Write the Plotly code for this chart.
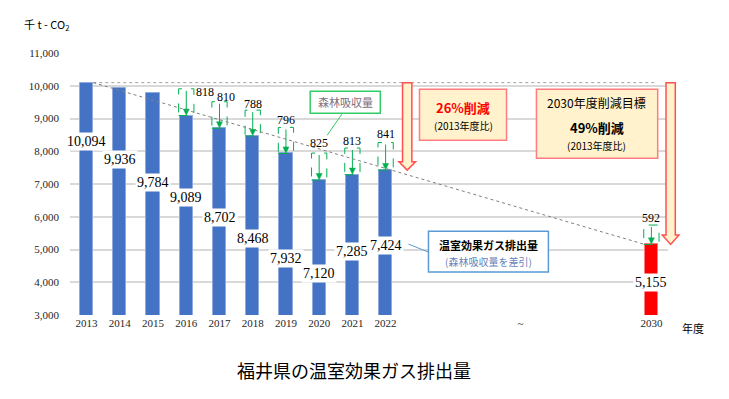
import plotly.graph_objects as go

# ---- data ----
years = ["2013", "2014", "2015", "2016", "2017", "2018", "2019", "2020", "2021", "2022"]
emissions = [10094, 9936, 9784, 9089, 8702, 8468, 7932, 7120, 7285, 7424]
target_year = "2030"
target_emission = 5155
absorb_years = ["2016", "2017", "2018", "2019", "2020", "2021", "2022", "2030"]
absorption = [818, 810, 788, 796, 825, 813, 841, 592]
tick_labels = years + ["~", target_year]

# ---- layout helpers (positions / styles) ----
slot = {y: i for i, y in enumerate(years)}
slot[target_year] = 17
tick_pos = list(range(len(years))) + [13.06, 17]
value_label_y = [8305, 7756, 7055, 6598, 5988, 5348, 4738, 4280, 4951, 5134]
target_label_y = 4006
absorb_label_dx = [0.57, 0.21, 0, 0, 0, 0, 0, 0]
absorb_label_y = [9799, 9646, 9433, 8945, 8244, 8305, 8518, 5957]
X_RANGE = [-0.5, 17.5]
Y_RANGE = [3000, 11000]

BLUE = "#4472C4"
RED = "#FF0000"
GREEN = "#00B050"
SERIF = "Liberation Serif"
JP = "Noto Sans CJK JP"


def px(s):  # slot -> paper x
    return (s - X_RANGE[0]) / (X_RANGE[1] - X_RANGE[0])


def py(v):  # value -> paper y
    return (v - Y_RANGE[0]) / (Y_RANGE[1] - Y_RANGE[0])


fig = go.Figure()
fig.add_trace(go.Bar(x=[slot[y] for y in years], y=emissions, width=0.4,
                     marker=dict(color=BLUE, line=dict(color="#8FAADC", width=1)),
                     hoverinfo="skip"))
fig.add_trace(go.Bar(x=[slot[target_year]], y=[target_emission], width=0.4,
                     marker=dict(color=RED, line=dict(color="#FF7C7C", width=1)),
                     hoverinfo="skip"))

shapes = []
ann = []

all_em = dict(zip(years, emissions))
all_em[target_year] = target_emission

# absorption dashed boxes + arrows + labels
for k, (yr, a) in enumerate(zip(absorb_years, absorption)):
    xi = slot[yr]
    base = all_em[yr]
    shapes.append(dict(type="rect", xref="x", yref="y", x0=xi - 0.23, x1=xi + 0.23,
                       y0=base, y1=base + a, line=dict(color=GREEN, width=1, dash="dash"),
                       fillcolor="rgba(0,0,0,0)", layer="above"))
    shapes.append(dict(type="line", xref="x", yref="y", x0=xi, x1=xi,
                       y0=base + a - 60, y1=base + 150, line=dict(color=GREEN, width=1),
                       layer="above"))
    shapes.append(dict(type="path", xref="x", yref="y",
                       path=f"M {xi-0.09},{base+200} L {xi+0.09},{base+200} L {xi},{base+10} Z",
                       fillcolor=GREEN, line=dict(color=GREEN, width=0.5), layer="above"))
    ann.append(dict(x=xi + absorb_label_dx[k], y=absorb_label_y[k], xref="x", yref="y",
                    text=f"{a}", showarrow=False,
                    font=dict(family=SERIF, size=12, color="#000000")))

# value labels
for yr, v, ly in zip(years, emissions, value_label_y):
    ann.append(dict(x=slot[yr], y=ly, xref="x", yref="y", text=f"{v:,}", showarrow=False,
                    bgcolor="white", borderpad=1,
                    font=dict(family=SERIF, size=14, color="#000000")))
ann.append(dict(x=slot[target_year], y=target_label_y, xref="x", yref="y",
                text=f"{target_emission:,}", showarrow=False, bgcolor="white", borderpad=1,
                font=dict(family=SERIF, size=14, color="#000000")))

# reference lines
base2013 = emissions[0]
shapes.append(dict(type="line", xref="x", yref="y", x0=0.2, x1=17.1, y0=base2013, y1=base2013,
                   line=dict(color="#A0A0A0", width=1, dash="dot"), layer="above"))
shapes.append(dict(type="line", xref="x", yref="y", x0=0.2, x1=16.8, y0=base2013, y1=target_emission,
                   line=dict(color="#808080", width=1, dash="dot"), layer="above"))


def block_arrow(xc, ytop, yhead, ytip):
    hw, hh = px(0.14) - px(0), px(0.25) - px(0)
    xc, ytop, yhead, ytip = px(xc), py(ytop), py(yhead), py(ytip)
    return (f"M {xc-hw},{ytop} L {xc+hw},{ytop} L {xc+hw},{yhead} L {xc+hh},{yhead} "
            f"L {xc},{ytip} L {xc-hh},{yhead} L {xc-hw},{yhead} Z")


shapes.append(dict(type="path", xref="paper", yref="paper",
                   path=block_arrow(9.65, base2013, 7680, emissions[-1]),
                   fillcolor="#FFF2CC", line=dict(color="#FF5050", width=1.5), layer="above"))
shapes.append(dict(type="path", xref="paper", yref="paper",
                   path=block_arrow(17.58, base2013, 5440, target_emission),
                   fillcolor="#FFF2CC", line=dict(color="#FF5050", width=1.5), layer="above"))

# text boxes
shapes.append(dict(type="rect", xref="x", yref="y", x0=10.02, x1=12.64, y0=8335, y1=9890,
                   fillcolor="#FFF2CC", line=dict(color="#FF7C80", width=1.5), layer="above"))
ann.append(dict(x=11.33, y=9330, xref="x", yref="y", text="<b>26%削減</b>", showarrow=False,
                font=dict(family=JP, size=13, color="#FF0000")))
ann.append(dict(x=11.33, y=8780, xref="x", yref="y", text="(2013年度比)", showarrow=False,
                font=dict(family=JP, size=10, color="#000000")))

shapes.append(dict(type="rect", xref="x", yref="y", x0=13.54, x1=17.19, y0=7787, y1=9890,
                   fillcolor="#FFF2CC", line=dict(color="#FF7C80", width=1.5), layer="above"))
ann.append(dict(x=15.36, y=9500, xref="x", yref="y", text="2030年度削減目標", showarrow=False,
                font=dict(family=JP, size=12, color="#000000")))
ann.append(dict(x=15.36, y=8740, xref="x", yref="y", text="<b>49%削減</b>", showarrow=False,
                font=dict(family=JP, size=13, color="#000000")))
ann.append(dict(x=15.36, y=8170, xref="x", yref="y", text="(2013年度比)", showarrow=False,
                font=dict(family=JP, size=10, color="#000000")))

shapes.append(dict(type="rect", xref="x", yref="y", x0=6.73, x1=8.84, y0=9159, y1=9829,
                   fillcolor="white", line=dict(color="#33CC66", width=1.5), layer="above"))
shapes.append(dict(type="line", xref="x", yref="y", x0=7.7, x1=7.24, y0=9159, y1=8488,
                   line=dict(color="#33CC66", width=1), layer="above"))
ann.append(dict(x=7.78, y=9494, xref="x", yref="y", text="森林吸収量", showarrow=False,
                font=dict(family=JP, size=11, color="#7F6F7F")))

shapes.append(dict(type="rect", xref="x", yref="y", x0=10.29, x1=13.9, y0=4311, y1=5561,
                   fillcolor="white", line=dict(color="#5B9BD5", width=1.5), layer="above"))
shapes.append(dict(type="line", xref="x", yref="y", x0=9.69, x1=10.29, y0=5165, y1=4920,
                   line=dict(color="#5B9BD5", width=1), layer="above"))
ann.append(dict(x=12.1, y=5140, xref="x", yref="y", text="<b>温室効果ガス排出量</b>", showarrow=False,
                font=dict(family=JP, size=11, color="#000000")))
ann.append(dict(x=12.1, y=4630, xref="x", yref="y", text="(森林吸収量を差引)", showarrow=False,
                font=dict(family=JP, size=10, color="#6A7FB8")))

# axis titles / chart title
ann.append(dict(x=(22 - 70) / 598, y=(315 - 24) / 262, xref="paper", yref="paper",
                xanchor="left", yanchor="middle", text="千 t - CO<sub>2</sub>", showarrow=False,
                font=dict(family=JP, size=11, color="#000000")))
ann.append(dict(x=(693 - 70) / 598, y=(315 - 328) / 262, xref="paper", yref="paper",
                xanchor="center", yanchor="middle", text="年度", showarrow=False,
                font=dict(family=JP, size=11, color="#000000")))
ann.append(dict(x=(354 - 70) / 598, y=(315 - 370) / 262, xref="paper", yref="paper",
                xanchor="center", yanchor="middle", text="福井県の温室効果ガス排出量", showarrow=False,
                font=dict(family=JP, size=18, color="#000000")))

fig.update_layout(
    width=729, height=399,
    margin=dict(l=70, r=61, t=53, b=84, autoexpand=False),
    paper_bgcolor="white", plot_bgcolor="white",
    showlegend=False, bargap=0,
    shapes=shapes, annotations=ann,
    xaxis=dict(range=X_RANGE, tickvals=tick_pos, ticktext=tick_labels,
               showgrid=False, zeroline=False, showline=False, ticks="", automargin=False,
               tickfont=dict(family=SERIF, size=11, color="#262626")),
    yaxis=dict(range=Y_RANGE, dtick=1000, tickformat=",", showgrid=True,
               gridcolor="#D9D9D9", gridwidth=1.5, zeroline=False, showline=False,
               ticks="", ticklabelstandoff=10, automargin=False,
               tickfont=dict(family=SERIF, size=11, color="#262626")),
)

fig.write_html("out.html", config={"displayModeBar": False},
               post_script="document.body.style.margin='0';document.body.style.overflow='hidden';")
